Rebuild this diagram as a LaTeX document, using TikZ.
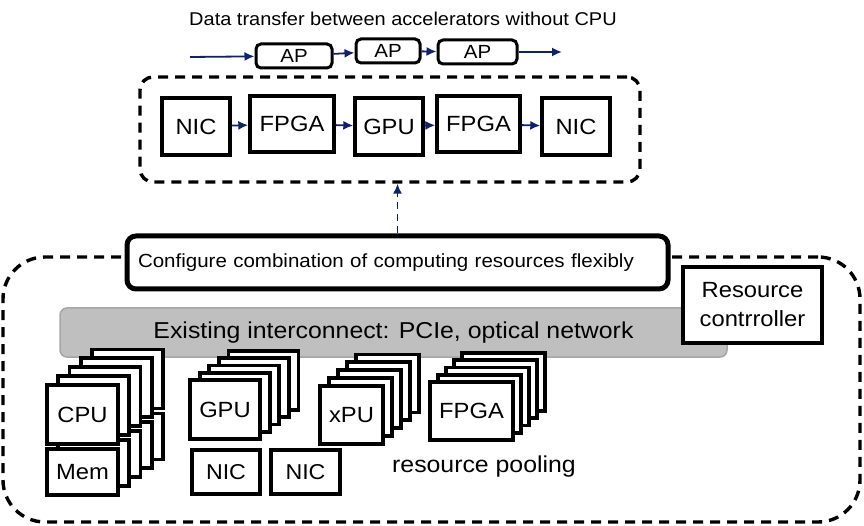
\documentclass[tikz,border=0pt]{standalone}
\usepackage{fontspec}
\setmainfont{Liberation Sans}[FakeStretch=1.08]
\usetikzlibrary{arrows.meta}
\definecolor{navy}{RGB}{16,32,112}
\definecolor{bargray}{RGB}{191,191,191}
\definecolor{barline}{RGB}{166,166,166}
\tikzset{>={Latex[length=10pt,width=9pt]}}

\begin{document}
\begin{tikzpicture}[
    x = 1pt, y = -1pt,
    bx/.style = {draw, line width = 3.4pt, fill = white, inner sep = 0pt, font = \fontsize{22}{24}\selectfont},
    ap/.style = {draw, line width = 3pt, rounded corners = 5pt, fill = white, inner sep = 0pt, minimum height = 24pt, font = \fontsize{19}{22}\selectfont},
    stk/.style = {draw, line width = 3.8pt, fill = white, inner sep = 0pt, font = \fontsize{22}{24}\selectfont},
    zone/.style = {draw, line width = 3.4pt, dash pattern = on 10pt off 7pt, inner sep = 0pt},
    flow/.style = {->, navy, line width = 1.8pt},
]
\useasboundingbox (0,0) rectangle (864,526);

% pooled resources and the accelerator chain
\node[zone, rounded corners = 42pt, minimum width = 857pt, minimum height = 265pt] (pool) at (431.5,389.5) {};
\node[zone, rounded corners = 13pt, minimum width = 500pt, minimum height = 105pt] (chain) at (390,129.5) {};

\node[font = \fontsize{18.5}{20}\selectfont] (title) at (403,19) {Data transfer between accelerators without CPU};

\node[ap, minimum width = 76pt] (ap1) at (294,56) {AP};
\node[ap, minimum width = 64pt] (ap2) at (388,51) {AP};
\node[ap, minimum width = 79pt] (ap3) at (477.5,52) {AP};
\coordinate (apin) at (190,57);
\coordinate (apout) at (562,52);
\draw[flow] (apin) -- (ap1);
\draw[flow] (ap1) -- (ap2);
\draw[flow] (ap2) -- (ap3);
\draw[flow] (ap3) -- (apout);

\node[bx, minimum width = 68pt, minimum height = 57pt] (nic1) at (196,126.5) {NIC};
\node[bx, minimum width = 84pt, minimum height = 56pt] (fpga1) at (292,124) {FPGA};
\node[bx, minimum width = 68pt, minimum height = 57pt] (gpu1) at (389,126.5) {GPU};
\node[bx, minimum width = 83pt, minimum height = 56pt] (fpga2) at (478.5,124) {FPGA};
\node[bx, minimum width = 68pt, minimum height = 57pt] (nic2) at (576,126.5) {NIC};
\draw[flow] (nic1) -- (fpga1);
\draw[flow] (fpga1) -- (gpu1);
\draw[flow] (gpu1) -- (fpga2);
\draw[flow] (fpga2) -- (nic2);

\node[draw = barline, fill = bargray, line width = 1.5pt, rounded corners = 7pt, minimum width = 667pt, minimum height = 49pt, font = \fontsize{23}{26}\selectfont] (bus) at (393.5,332.5) {Existing interconnect: PCIe,\ optical network};

\node[bx, line width = 3.6pt, minimum width = 139pt, minimum height = 76pt, align = center, font = \fontsize{22}{29}\selectfont] (ctrl) at (752.5,305) {Resource\\contrroller};

\node[draw, line width = 5pt, rounded corners = 9pt, fill = white, minimum width = 541pt, minimum height = 53pt, text width = 519pt, inner xsep = 11pt, align = left, font = \fontsize{19}{22}\selectfont] (conf) at (397.5,262.5) {Configure combination of computing resources flexibly};
\draw[flow, line width = 1.6pt, dash pattern = on 7pt off 5pt] (conf.north) -- (conf.north |- chain.south);

% stacks, back to front
\foreach \k in {4,...,0} {
  \foreach \nm/\x/\y/\w/\h/\dx/\dy/\txt in {cpu/82.5/414.5/71/59/11.25/8.9/CPU, mem/82.5/472/71/46/11.25/8.9/Mem, gpu/225/409.5/70/59/9.6/7.25/GPU, xpu/351.5/415/63/58/9/7.9/xPU, fpga/471.5/411/83/58/7.9/7.25/FPGA}
    \node[stk, minimum width = \w pt, minimum height = \h pt] (\nm\k) at ({\x+\dx*\k},{\y-\dy*\k}) {\ifnum\k=0 \txt\fi};
}

\node[stk, line width = 3.4pt, minimum width = 68pt, minimum height = 44pt, font = \fontsize{21.5}{24}\selectfont] (nica) at (226,472) {NIC};
\node[stk, line width = 3.4pt, minimum width = 69pt, minimum height = 44pt, font = \fontsize{21.5}{24}\selectfont] (nicb) at (305.5,472) {NIC};

\node[font = \fontsize{23}{26}\selectfont] (pooling) at (484,467) {resource pooling};

\end{tikzpicture}
\end{document}
